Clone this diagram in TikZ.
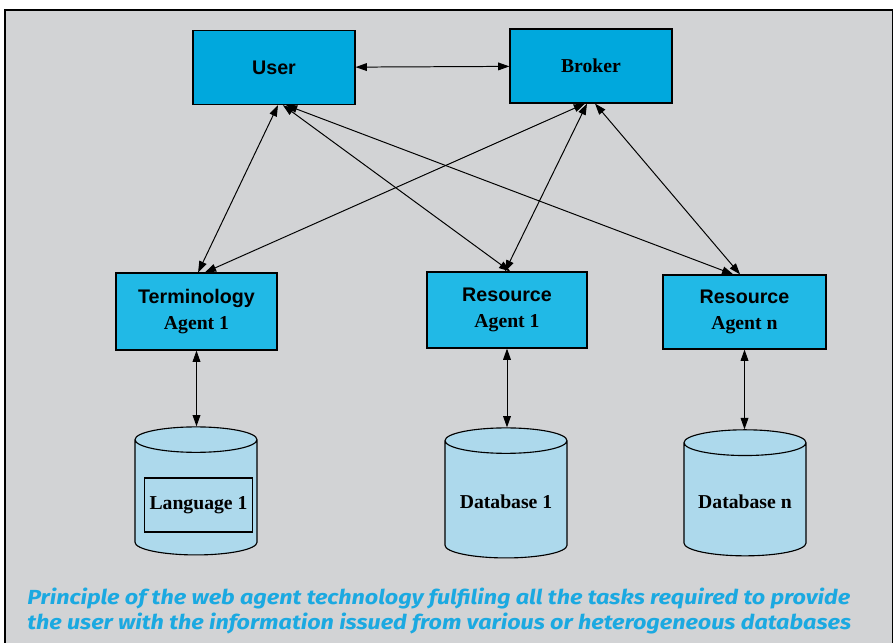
\documentclass[tikz,border=0pt]{standalone}
\usepackage{graphicx}
\usepackage{fontspec}
\setmainfont{Liberation Serif}
\newfontfamily\boxsans{Liberation Sans}
\newfontfamily\capfont{Fira Sans}
\usetikzlibrary{arrows.meta, shapes.geometric, positioning}
\definecolor{framegray}{HTML}{D2D3D5}
\definecolor{topblue}{HTML}{00A8DD}
\definecolor{agentblue}{HTML}{21B9E6}
\definecolor{dbblue}{HTML}{ADD9EC}
\definecolor{captionblue}{HTML}{1BA9E1}

\begin{document}
\begin{tikzpicture}[
    x=0.025cm, y=-0.025cm,
    topbox/.style={rectangle, draw, line width=0.8pt, fill=topblue, minimum width=4.05cm,
                   minimum height=1.85cm, font=\fontsize{14}{17}\selectfont\bfseries},
    agent/.style={rectangle, draw, line width=0.8pt, fill=agentblue, minimum width=4.05cm,
                  minimum height=1.9cm, align=center, font=\fontsize{14}{18.5}\selectfont\bfseries},
    dbase/.style={cylinder, shape border rotate=90, aspect=0.25, draw, line width=0.8pt,
                  fill=dbblue, minimum width=3.05cm, minimum height=3.2cm,
                  font=\fontsize{14}{17}\selectfont\bfseries},
    link/.style={{Triangle[length=8pt,width=5.5pt]}-{Triangle[length=8pt,width=5.5pt]}, line width=0.7pt}
]
\useasboundingbox (0,0) rectangle (893,643);
\draw[fill=framegray, line width=0.8pt] (5,10) rectangle (892.5,660);

% top row
\node[topbox] (user) at (274,67.5) {\boxsans User};
\node[topbox] (broker) at (591,66) {Broker};

% agents
\node[agent, minimum width=4.025cm, minimum height=1.925cm] (term) at (196.5,311.5)
    {{\boxsans Terminology}\\Agent 1};
\node[agent, minimum width=4cm] (res1) at (507,310) {{\boxsans Resource}\\Agent 1};
\node[agent, minimum width=4.075cm, minimum height=1.85cm] (resn) at (744.5,312)
    {{\boxsans Resource}\\Agent n};

% data sources
\node[dbase] (db0) at (196,500) {\phantom{Database 1}};
\node[rectangle, draw, line width=0.8pt, minimum width=2.675cm, minimum height=1.35cm,
      font=\fontsize{14}{17}\selectfont\bfseries] (lang) at (198.5,505) {Language 1};
\node[dbase, minimum height=3.25cm] (db1) at (506,502) {Database 1};
\node[dbase, minimum height=3.15cm] (dbn) at (745,502) {Database n};

\draw[link] (user) -- (broker);
\draw[link] ([xshift=0.1cm]user.south) -- ([xshift=0.04cm]term.north);
\draw[link] ([xshift=0.22cm]user.south) -- ([xshift=0.08cm]res1.north);
\draw[link] ([xshift=0.3cm]user.south) -- ([xshift=-0.28cm]resn.north);
\draw[link] ([xshift=-0.15cm]broker.south) -- ([xshift=0.21cm]term.north);
\draw[link] ([xshift=-0.1cm]broker.south) -- ([xshift=-0.05cm]res1.north);
\draw[link] ([xshift=0.1cm]broker.south) -- ([xshift=-0.11cm]resn.north);
\draw[link] (term) -- (term |- db0.top);
\draw[link] (res1) -- (res1 |- db1.top);
\draw[link] (resn) -- (resn |- dbn.top);

\node[anchor=north west, text=captionblue, inner sep=0pt,
      font=\capfont\fontsize{14.5}{17.8}\selectfont\bfseries\itshape] (caption) at (27,587)
    {\scalebox{1.146}[1]{\begin{tabular}{@{}l@{}}
     Principle of the web agent technology fulfiling all the tasks required to provide\\
     the user with the information issued from various or heterogeneous databases
     \end{tabular}}};
\end{tikzpicture}
\end{document}
